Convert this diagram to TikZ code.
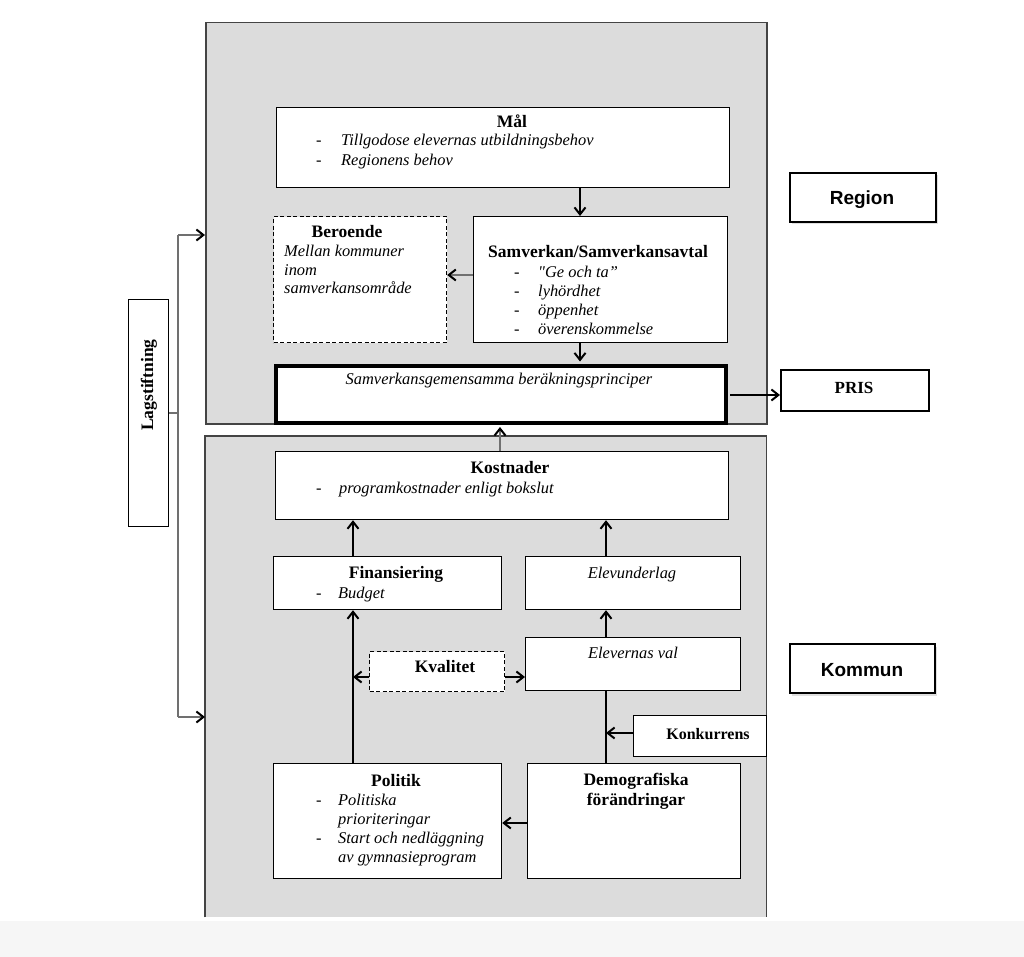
\documentclass[tikz,border=0pt]{standalone}
\usepackage{fontspec}
\setmainfont{Liberation Serif}
\newfontfamily\sansfam{Liberation Sans}
\usetikzlibrary{arrows.meta,shadows}
\definecolor{panelgray}{HTML}{DCDCDC}
\definecolor{panelline}{HTML}{444444}
\definecolor{linkgray}{HTML}{707070}
\definecolor{bandgray}{HTML}{F6F6F6}
\newcommand{\strquote}{{\XeTeXglyph\XeTeXcharglyph"22\relax}}
\begin{document}
\begin{tikzpicture}[x=1pt,y=-1pt,
 panel/.style={fill=panelgray, inner sep=0, anchor=north west},
 box/.style={draw=black, line width=1.2pt, fill=white, inner sep=0, anchor=north west},
 dbox/.style={box, dash pattern=on 4pt off 2.5pt},
 tagbox/.style={box, line width=2pt, drop shadow={shadow xshift=1.5pt, shadow yshift=-2.5pt, opacity=0.25}},
 ttl/.style={font=\fontsize{17.5}{20}\selectfont\bfseries, inner sep=0},
 itx/.style={font=\fontsize{16.4}{19}\selectfont\itshape, inner sep=0},
 sanslab/.style={font=\sansfam\fontsize{19}{22}\selectfont\bfseries, inner sep=0},
 arr/.style={line width=1.3pt, -{Straight Barb[length=7pt,width=11pt,line width=2pt,color=black]}},
 glink/.style={draw=linkgray, line width=1.5pt},
]
\useasboundingbox (0,0) rectangle (1024,957);
\fill[white] (0,0) rectangle (1024,957);
\fill[bandgray] (0,921) rectangle (1024,957);

% panels
\node[panel, draw=panelline, line width=1.5pt, minimum width=561pt, minimum height=401pt] (rpanel) at (205,22) {};
\node[panel, minimum width=561pt, minimum height=481pt] (kpanel) at (205,436) {};
\draw[panelline, line width=1.5pt] (kpanel.south west) -- (kpanel.north west) -- (kpanel.north east) -- (kpanel.south east);

% boxes
\node[box, minimum width=453pt, minimum height=80pt] (mal) at (276,107) {};
\node[dbox, minimum width=173pt, minimum height=126pt] (beroende) at (273,216) {};
\node[box, minimum width=254pt, minimum height=126pt] (samv) at (473,216) {};
\node[box, line width=4.5pt, minimum width=450pt, minimum height=57pt] (sgem) at (273.5,363.5) {};
\node[box, line width=1.8pt, minimum width=148pt, minimum height=41pt] (pris) at (780,369) {};
\node[tagbox, minimum width=146pt, minimum height=49pt] (region) at (789,172) {};
\node[tagbox, minimum width=145pt, minimum height=49pt] (kommun) at (789,643) {};
\node[box, minimum width=453pt, minimum height=68pt] (kost) at (275,451) {};
\node[box, minimum width=228pt, minimum height=53pt] (fin) at (273,556) {};
\node[box, minimum width=215pt, minimum height=53pt] (elevu) at (525,556) {};
\node[box, minimum width=215pt, minimum height=53pt] (elevv) at (525,637) {};
\node[dbox, minimum width=135pt, minimum height=40pt] (kval) at (369,651) {};
\node[box, minimum width=133pt, minimum height=41pt] (konk) at (633,715) {};
\node[box, minimum width=228pt, minimum height=115pt] (politik) at (273,763) {};
\node[box, minimum width=213pt, minimum height=115pt] (demo) at (527,763) {};
\node[box, minimum width=40pt, minimum height=227pt] (lag) at (128,299) {};

% texts
\node[ttl, anchor=base] (maltitle) at (512,128) {Mål};
\node[itx, anchor=base west, font=\fontsize{16.4}{20}\selectfont\itshape] (malbody) at (316,146) {\begin{tabular}[t]{@{}p{25pt}@{}l@{}}-&Tillgodose elevernas utbildningsbehov\\-&Regionens behov\end{tabular}};
\node[ttl, anchor=base] (bertitle) at (347,238) {Beroende};
\node[itx, anchor=base west, font=\fontsize{16.4}{18.5}\selectfont\itshape] (berbody) at (284,257) {\begin{tabular}[t]{@{}l@{}}Mellan kommuner\\inom\\samverkansområde\end{tabular}};
\node[ttl, anchor=base west] (samvtitle) at (488,258) {Samverkan/Samverkansavtal};
\node[itx, anchor=base west] (samvbody) at (514,278) {\begin{tabular}[t]{@{}p{24pt}@{}l@{}}-&\strquote Ge och ta''\\-&lyhördhet\\-&öppenhet\\-&överenskommelse\end{tabular}};
\node[itx, anchor=base] (sgemtext) at (499,384) {Samverkansgemensamma beräkningsprinciper};
\node[ttl, anchor=base] (kosttitle) at (510,473) {Kostnader};
\node[itx, anchor=base west] (kostbody) at (316,493) {\begin{tabular}[t]{@{}p{23pt}@{}l@{}}-&programkostnader enligt bokslut\end{tabular}};
\node[ttl, anchor=base] (fintitle) at (396,578) {Finansiering};
\node[itx, anchor=base west] (finbody) at (316,598) {\begin{tabular}[t]{@{}p{22pt}@{}l@{}}-&Budget\end{tabular}};
\node[itx, anchor=base] (elevutext) at (632,578) {Elevunderlag};
\node[itx, anchor=base] (elevvtext) at (633,658) {Elevernas val};
\node[ttl, anchor=base] (kvaltext) at (445,672) {Kvalitet};
\node[ttl, anchor=base, font=\fontsize{16}{19}\selectfont\bfseries] (konktext) at (708,739) {Konkurrens};
\node[ttl, anchor=base] (poltitle) at (396,786) {Politik};
\node[itx, anchor=base west] (polbody) at (316,805) {\begin{tabular}[t]{@{}p{22pt}@{}l@{}}-&Politiska\\&prioriteringar\\-&Start och nedläggning\\&av gymnasieprogram\end{tabular}};
\node[ttl, anchor=base] (demotitle) at (636,785) {\begin{tabular}[t]{@{}c@{}}Demografiska\\förändringar\end{tabular}};
\node[ttl, anchor=base, font=\fontsize{17}{20}\selectfont\bfseries] (pristext) at (854,393) {PRIS};
\node[sanslab, anchor=base] (regiontext) at (862,205) {Region};
\node[sanslab, anchor=base] (kommuntext) at (862,676) {Kommun};
\node[ttl, rotate=90, anchor=center] (lagtext) at (149,385) {Lagstiftning};

% helper coordinates
\coordinate (xl) at (353,0);
\coordinate (xr) at (606,0);
\coordinate (xm) at (580,0);
\coordinate (xk) at (500,0);
\coordinate (yb) at (0,275);
\coordinate (yp) at (0,395);
\coordinate (yq) at (0,677);
\coordinate (yk) at (0,733);
\coordinate (yd) at (0,823);
\coordinate (kq) at (353,677);
\coordinate (kk) at (606,733);
\coordinate (lt) at (178,235);
\coordinate (lb) at (178,717);

% connectors
\draw[arr] (mal.south -| xm) -- (samv.north -| xm);
\draw[arr, draw=linkgray] (samv.west |- yb) -- (beroende.east |- yb);
\draw[arr, shorten >=2pt] (samv.south -| xm) -- (sgem.north -| xm);
\draw[arr, shorten <=2pt] (sgem.east |- yp) -- (pris.west |- yp);
\draw[arr, draw=linkgray, shorten >=2pt] (kost.north -| xk) -- (sgem.south -| xk);
\draw[arr] (fin.north -| xl) -- (kost.south -| xl);
\draw[arr] (elevu.north -| xr) -- (kost.south -| xr);
\draw[arr] (elevv.north -| xr) -- (elevu.south -| xr);
\draw[arr] (politik.north -| xl) -- (fin.south -| xl);
\draw[arr] (kval.west |- yq) -- (kq);
\draw[arr] (kval.east |- yq) -- (elevv.west |- yq);
\draw[line width=1.3pt] (demo.north -| xr) -- (elevv.south -| xr);
\draw[arr] (konk.west |- yk) -- (kk);
\draw[arr] (demo.west |- yd) -- (politik.east |- yd);

% Lagstiftning links
\draw[glink] (lag.east) -- (lag.east -| lt);
\draw[glink] (lt) -- (lb);
\draw[glink, arr, draw=linkgray] (lt) -- (lt -| rpanel.west);
\draw[glink, arr, draw=linkgray] (lb) -- (lb -| kpanel.west);
\end{tikzpicture}
\end{document}
